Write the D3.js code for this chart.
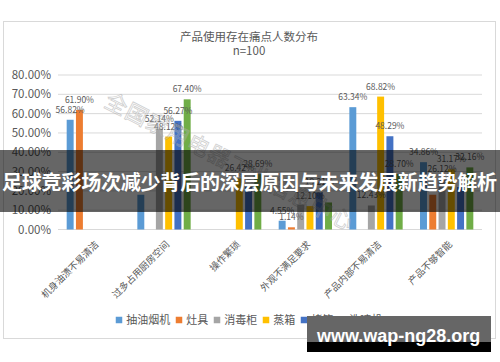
<!DOCTYPE html>
<html>
<head>
<meta charset="utf-8">
<script src="https://cdn.jsdelivr.net/npm/d3@7"></script>
<style>
  body { margin: 0; background: #fff; }
  svg { display: block; font-family: "Noto Sans CJK SC", sans-serif; }
</style>
</head>
<body>
<script>
const width = 500;
const height = 362;

const categories = ["机身油渍不易清洁", "过多占用厨房空间", "操作繁琐", "外观不满足要求", "产品内部不易清洁", "产品不够智能"];
const seriesNames = ["抽油烟机", "灶具", "消毒柜", "蒸箱", "烤箱", "洗碗机"];
const colors = ["#5B9BD5", "#ED7D31", "#A5A5A5", "#FFC000", "#4472C4", "#70AD47"];

// percent values per series, null = no bar
const hood       = [56.82, 18.0, null, 4.55, 63.34, 34.86];
const stove      = [61.90, null, null, 1.14, null, 18.0];
const sterilizer = [null, 52.14, null, 12.9, 12.43, 26.12];
const steamer    = [null, 48.12, 26.42, 12.10, 68.82, 31.17];
const oven       = [null, 56.27, 22.0, 19.21, 48.29, 22.0];
const dishwasher = [null, 67.40, 28.69, 14.0, 28.70, 32.16];
const seriesValues = [hood, stove, sterilizer, steamer, oven, dishwasher];

// labels covered by the banner in the picture: [series, category]
const hiddenLabels = [[0, 1], [1, 5], [2, 3], [4, 2], [4, 5], [5, 3]];

const yTicks = [0, 10, 20, 30, 40, 50, 60, 70, 80];

const title = "产品使用存在痛点人数分布";
const subtitle = "n=100";
const bannerText = "足球竞彩场次减少背后的深层原因与未来发展新趋势解析";
const siteText = "www.wap-ng28.org";
const stampText = "全国家用电器工业信息中心";

const svg = d3.select("body").append("svg")
    .attr("width", width)
    .attr("height", height);

svg.append("rect")
    .attr("x", 3.5).attr("y", 21.5)
    .attr("width", 492).attr("height", 317)
    .attr("fill", "#fff")
    .attr("stroke", "#d9d9d9");

svg.append("text")
    .attr("x", 249).attr("y", 41)
    .attr("text-anchor", "middle")
    .attr("font-size", 11.5)
    .attr("fill", "#595959")
    .text(title);

svg.append("text")
    .attr("x", 249).attr("y", 55)
    .attr("text-anchor", "middle")
    .attr("font-size", 11.5)
    .attr("fill", "#595959")
    .text(subtitle);

const x0 = d3.scaleBand()
    .domain(categories)
    .range([58, 482])
    .paddingInner(0.18)
    .paddingOuter(0.09);

const x1 = d3.scaleBand()
    .domain(d3.range(seriesNames.length))
    .range([0, x0.bandwidth()])
    .padding(0.25);

const y = d3.scaleLinear()
    .domain([0, 80])
    .range([229.5, 75]);

// grid + y labels
const grid = svg.append("g");
grid.selectAll("line")
  .data(yTicks)
  .join("line")
    .attr("x1", 58).attr("x2", 482)
    .attr("y1", d => y(d)).attr("y2", d => y(d))
    .attr("stroke", "#d9d9d9");

grid.selectAll("text")
  .data(yTicks)
  .join("text")
    .attr("x", 51)
    .attr("y", d => y(d))
    .attr("dy", "0.35em")
    .attr("text-anchor", "end")
    .attr("font-size", 11.5)
    .attr("fill", "#595959")
    .text(d => d.toFixed(2) + "%");

// bars
const bars = [];
seriesValues.forEach((vals, s) => {
  vals.forEach((v, c) => {
    if (v != null) bars.push({ s, c, v });
  });
});

svg.append("g")
  .selectAll("rect")
  .data(bars)
  .join("rect")
    .attr("x", d => x0(categories[d.c]) + x1(d.s))
    .attr("y", d => y(d.v))
    .attr("width", x1.bandwidth())
    .attr("height", d => y(0) - y(d.v))
    .attr("fill", d => colors[d.s]);

const isHidden = d => hiddenLabels.some(h => h[0] === d.s && h[1] === d.c);

svg.append("g")
  .selectAll("text")
  .data(bars.filter(d => !isHidden(d)))
  .join("text")
    .attr("x", d => x0(categories[d.c]) + x1(d.s) + x1.bandwidth() / 2)
    .attr("y", d => y(d.v) - 7)
    .attr("text-anchor", "middle")
    .attr("font-size", 8.5)
    .attr("fill", "#595959")
    .text(d => d.v.toFixed(2) + "%");

// category labels
svg.append("g")
  .selectAll("text")
  .data(categories)
  .join("text")
    .attr("transform", d => `translate(${x0(d) + x0.bandwidth() / 2 + 6},245) rotate(-45)`)
    .attr("text-anchor", "end")
    .attr("font-size", 9.5)
    .attr("fill", "#595959")
    .text(d => d);

// legend
const legend = svg.append("g");
const items = legend.selectAll("g")
  .data(seriesNames)
  .join("g");
items.append("rect")
    .attr("width", 6.5).attr("height", 6.5)
    .attr("y", -3.25)
    .attr("fill", (d, i) => colors[i]);
items.append("text")
    .attr("x", 10.5)
    .attr("dy", "0.35em")
    .attr("font-size", 11)
    .attr("fill", "#595959")
    .text(d => d);

let lx = 0;
items.each(function() {
  const w = d3.select(this).select("text").node().getComputedTextLength();
  d3.select(this).attr("transform", `translate(${lx},0)`);
  lx += 10.5 + w + 5.5;
});
legend.attr("transform", `translate(${249 - (lx - 5.5) / 2},320)`);

// stamp watermark
svg.append("text")
    .attr("transform", "translate(103,106) rotate(27)")
    .attr("font-size", 22)
    .attr("letter-spacing", 1)
    .attr("fill", "#fff")
    .attr("fill-opacity", 0.25)
    .attr("stroke", "#a8a8a8")
    .attr("stroke-width", 0.8)
    .attr("opacity", 0.55)
    .text(stampText);

// banner overlay
svg.append("rect")
    .attr("x", 0).attr("y", 150)
    .attr("width", width).attr("height", 62)
    .attr("fill", "#000")
    .attr("fill-opacity", 0.6);

svg.append("text")
    .attr("x", 2).attr("y", 183)
    .attr("dy", "0.35em")
    .attr("textLength", 495)
    .attr("font-size", 20)
    .attr("font-weight", 700)
    .attr("fill", "#fff")
    .text(bannerText);

// site box
svg.append("rect")
    .attr("x", 307).attr("y", 316)
    .attr("width", 184).attr("height", 26)
    .attr("fill", "#666");
svg.append("rect")
    .attr("x", 307).attr("y", 342)
    .attr("width", 184).attr("height", 10)
    .attr("fill", "#000");
svg.append("text")
    .attr("x", 317).attr("y", 342)
    .attr("font-family", "Liberation Sans, Arial, sans-serif")
    .attr("font-size", 18)
    .attr("font-weight", 700)
    .attr("fill", "#fff")
    .text(siteText);
</script>
</body>
</html>
